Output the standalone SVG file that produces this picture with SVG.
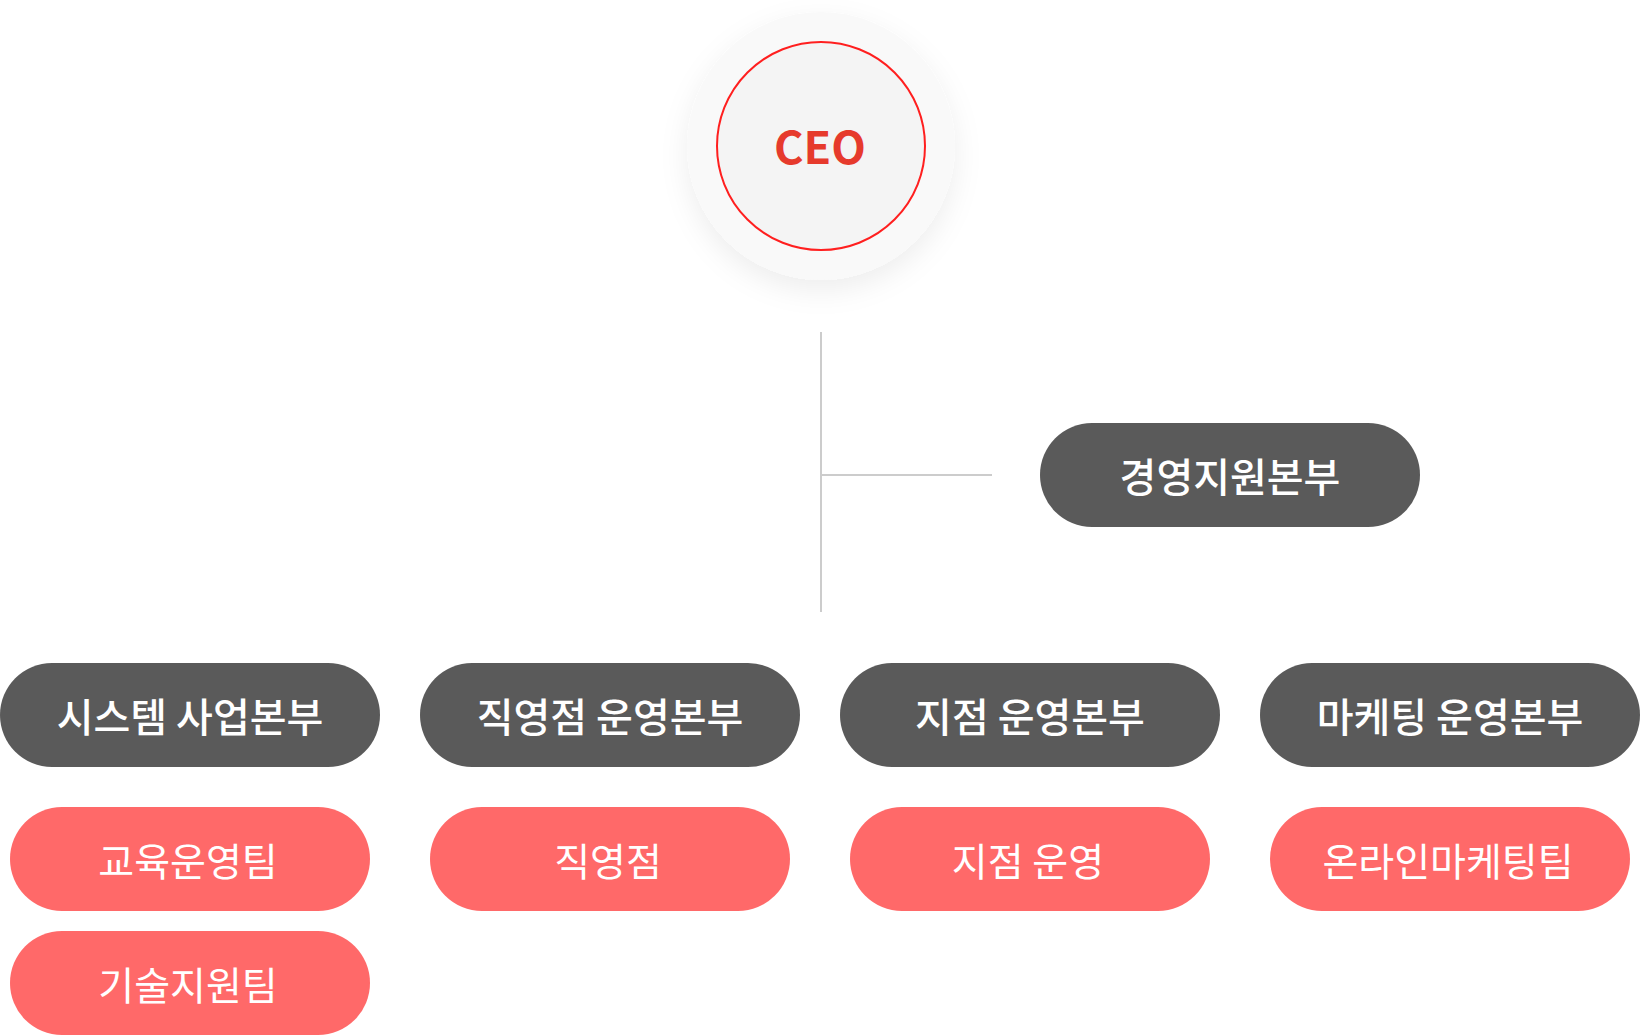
<svg xmlns="http://www.w3.org/2000/svg" width="1640" height="1036" viewBox="0 0 1640 1036">
<style>
.dark{fill:#5a5a5a}
.red{fill:#ff6969}
.dt{font-family:"Noto Sans CJK KR","Noto Sans",sans-serif;font-size:40px;font-weight:500;fill:#ffffff;text-anchor:middle;dominant-baseline:central}
.rt{font-family:"Noto Sans CJK KR","Noto Sans",sans-serif;font-size:39px;font-weight:400;fill:#ffffff;text-anchor:middle;dominant-baseline:central}
.conn{stroke:#cccccc;stroke-width:2;fill:none}
</style>
<defs>
<filter id="sh" x="-50%" y="-50%" width="200%" height="200%">
<feDropShadow dx="0" dy="10" stdDeviation="14" flood-color="#000" flood-opacity="0.07"/>
</filter>
</defs>
<rect width="1640" height="1036" fill="#ffffff"/>
<g id="connectors">
<line class="conn" x1="821" y1="332" x2="821" y2="612"/>
<line class="conn" x1="821" y1="475" x2="992" y2="475"/>
</g>
<g id="ceo">
<circle cx="821" cy="146" r="134" fill="#f9f9f9" filter="url(#sh)"/>
<circle cx="821" cy="146" r="104" fill="#f4f4f4" stroke="#ff1f1f" stroke-width="2"/>
<text x="820" y="144" font-family="'Noto Sans CJK KR','Noto Sans',sans-serif" font-size="45" font-weight="700" fill="#e63a2c" text-anchor="middle" dominant-baseline="central">CEO</text>
</g>
<g id="mgmt">
<rect class="dark" x="1040" y="423" width="380" height="104" rx="52"/>
<text class="dt" x="1230" y="475">경영지원본부</text>
</g>
<g id="div1">
<rect class="dark" x="0" y="663" width="380" height="104" rx="52"/>
<text class="dt" x="190" y="715">시스템 사업본부</text>
</g>
<g id="div2">
<rect class="dark" x="420" y="663" width="380" height="104" rx="52"/>
<text class="dt" x="610" y="715">직영점 운영본부</text>
</g>
<g id="div3">
<rect class="dark" x="840" y="663" width="380" height="104" rx="52"/>
<text class="dt" x="1030" y="715">지점 운영본부</text>
</g>
<g id="div4">
<rect class="dark" x="1260" y="663" width="380" height="104" rx="52"/>
<text class="dt" x="1450" y="715">마케팅 운영본부</text>
</g>
<g id="team1">
<rect class="red" x="10" y="807" width="360" height="104" rx="52"/>
<text class="rt" x="188" y="859">교육운영팀</text>
</g>
<g id="team2">
<rect class="red" x="10" y="931" width="360" height="104" rx="52"/>
<text class="rt" x="188" y="983">기술지원팀</text>
</g>
<g id="team3">
<rect class="red" x="430" y="807" width="360" height="104" rx="52"/>
<text class="rt" x="608" y="859">직영점</text>
</g>
<g id="team4">
<rect class="red" x="850" y="807" width="360" height="104" rx="52"/>
<text class="rt" x="1028" y="859">지점 운영</text>
</g>
<g id="team5">
<rect class="red" x="1270" y="807" width="360" height="104" rx="52"/>
<text class="rt" x="1448" y="859">온라인마케팅팀</text>
</g>
</svg>
